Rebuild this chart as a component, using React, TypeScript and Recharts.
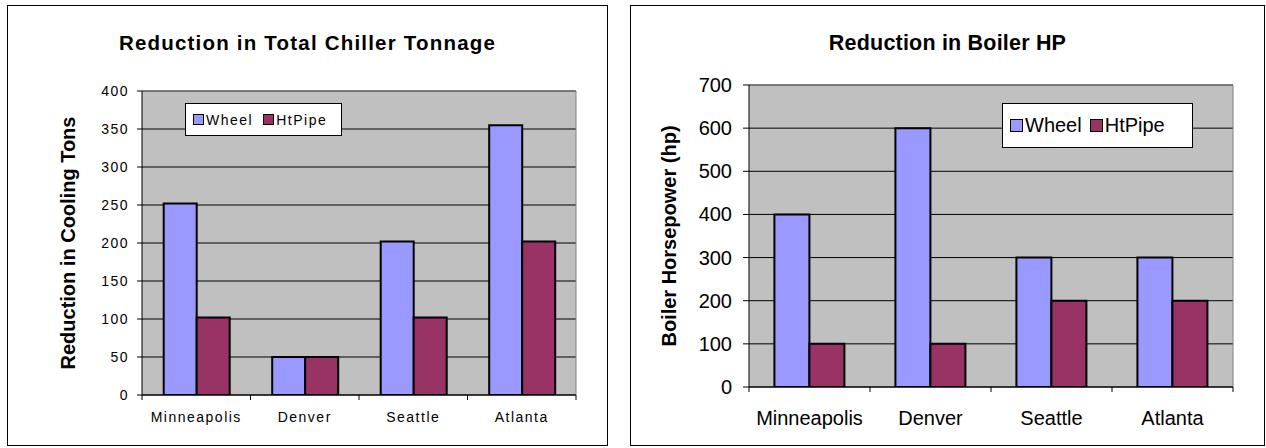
import React from 'react';
import { BarChart, Bar, XAxis, YAxis, CartesianGrid, Legend, ReferenceLine } from 'recharts';

const CITIES = ['Minneapolis', 'Denver', 'Seattle', 'Atlanta'];
const SERIES_ORDER = ['wheel', 'htpipe'];

const TONS_WHEEL = [252, 50, 202, 355];
const TONS_HTPIPE = [102, 50, 102, 202];
const TONS_TICKS = [0, 50, 100, 150, 200, 250, 300, 350, 400];

const HP_WHEEL = [400, 600, 300, 300];
const HP_HTPIPE = [100, 100, 200, 200];
const HP_TICKS = [0, 100, 200, 300, 400, 500, 600, 700];

const FONT = "'Liberation Sans', Arial, Helvetica, sans-serif";
const WHEEL_COLOR = '#9999FF';
const HTPIPE_COLOR = '#993366';

interface PanelProps {
  title: string;
  yLabel: string;
  wheel: number[];
  htpipe: number[];
  ticks: number[];
  box: { left: number; top: number; width: number; height: number };
  margin: { top: number; right: number; bottom: number; left: number };
  yAxisWidth: number;
  xAxisHeight: number;
  yTickSize: number;
  yTickMargin: number;
  fontSize: number;
  letterSpacing: number;
  titleSize: number;
  titleSpacing: number;
  titleY: number;
  yLabelSize: number;
  yLabelPos: { x: number; y: number };
  xLabelDy: number;
  categoryGap: string;
  legend: { left: number; top: number; width: number; height: number; pad: number; marker: number; gap: number };
}

const ChartPanel: React.FC<PanelProps> = (p) => {
  const data = CITIES.map((city, i) => ({ city, wheel: p.wheel[i], htpipe: p.htpipe[i] }));
  const innerW = p.box.width - 2;
  const innerH = p.box.height - 2;
  const plotW = innerW - p.margin.left - p.yAxisWidth - p.margin.right;
  const top = p.ticks[p.ticks.length - 1];

  const renderXTick = (props: any) => {
    const { x, y, payload, index } = props;
    const half = payload && typeof payload.offset === 'number' && payload.offset > 0 ? payload.offset : plotW / CITIES.length / 2;
    return (
      <g>
        <line x1={x - half} y1={y} x2={x - half} y2={y + 5} stroke="#000" />
        {index === CITIES.length - 1 && <line x1={x + half} y1={y} x2={x + half} y2={y + 5} stroke="#000" />}
        <text
          x={x}
          y={y + p.xLabelDy}
          textAnchor="middle"
          fill="#000"
          style={{ fontFamily: FONT, fontSize: p.fontSize, letterSpacing: p.letterSpacing }}
        >
          {payload.value}
        </text>
      </g>
    );
  };

  const renderYTick = (props: any) => {
    const { x, y, payload } = props;
    return (
      <text
        x={x}
        y={y}
        textAnchor="end"
        dominantBaseline="central"
        fill="#000"
        style={{ fontFamily: FONT, fontSize: p.fontSize, letterSpacing: p.letterSpacing }}
      >
        {payload.value}
      </text>
    );
  };

  const renderLegend = (props: any) => {
    const items = [...(props.payload || [])].sort(
      (a: any, b: any) => SERIES_ORDER.indexOf(a.dataKey) - SERIES_ORDER.indexOf(b.dataKey)
    );
    return (
      <div
        style={{
          width: p.legend.width,
          height: p.legend.height,
          boxSizing: 'border-box',
          border: '1px solid #000',
          background: '#fff',
          display: 'flex',
          alignItems: 'center',
          paddingLeft: p.legend.pad,
          fontFamily: FONT,
          fontSize: p.fontSize,
          letterSpacing: p.letterSpacing,
          color: '#000',
        }}
      >
        {items.map((item: any, i: number) => (
          <div key={`leg-${i}`} style={{ display: 'flex', alignItems: 'center', marginRight: i === 0 ? p.legend.gap : 0 }}>
            <span
              style={{
                display: 'inline-block',
                width: p.legend.marker,
                height: p.legend.marker,
                boxSizing: 'border-box',
                border: '1.5px solid #000',
                background: item.color,
                marginRight: 2,
              }}
            />
            <span>{item.value}</span>
          </div>
        ))}
      </div>
    );
  };

  return (
    <div
      style={{
        position: 'absolute',
        left: p.box.left,
        top: p.box.top,
        width: p.box.width,
        height: p.box.height,
        boxSizing: 'border-box',
        border: '1px solid #000',
        background: '#fff',
      }}
    >
      <BarChart
        width={innerW}
        height={innerH}
        data={data}
        margin={p.margin}
        barGap={0}
        barCategoryGap={p.categoryGap}
      >
        <CartesianGrid vertical={false} stroke="#000" fill="#C0C0C0" fillOpacity={1} />
        <XAxis
          dataKey="city"
          height={p.xAxisHeight}
          stroke="#000"
          tickLine={false}
          tickSize={0}
          tickMargin={0}
          interval={0}
          tick={renderXTick}
        />
        <YAxis
          width={p.yAxisWidth}
          domain={[0, top]}
          ticks={p.ticks}
          interval={0}
          stroke="#000"
          tickLine={{ stroke: '#000' }}
          tickSize={p.yTickSize}
          tickMargin={p.yTickMargin}
          tick={renderYTick}
          allowDataOverflow
        />
        <ReferenceLine y={top} stroke="#808080" />
        <ReferenceLine x={CITIES[CITIES.length - 1]} position="end" stroke="#808080" />
        <Legend
          layout="horizontal"
          align="center"
          verticalAlign="middle"
          content={renderLegend}
          wrapperStyle={{ left: p.legend.left, top: p.legend.top, width: p.legend.width, height: p.legend.height }}
        />
        <Bar dataKey="wheel" name="Wheel" fill={WHEEL_COLOR} stroke="#000" strokeWidth={2} isAnimationActive={false} />
        <Bar dataKey="htpipe" name="HtPipe" fill={HTPIPE_COLOR} stroke="#000" strokeWidth={2} isAnimationActive={false} />
      </BarChart>
      <svg
        width={innerW}
        height={innerH}
        style={{ position: 'absolute', left: 0, top: 0, pointerEvents: 'none' }}
      >
        <text
          x={innerW / 2}
          y={p.titleY}
          textAnchor="middle"
          fill="#000"
          style={{ fontFamily: FONT, fontSize: p.titleSize, fontWeight: 'bold', letterSpacing: p.titleSpacing }}
        >
          {p.title}
        </text>
        <text
          x={p.yLabelPos.x}
          y={p.yLabelPos.y}
          textAnchor="middle"
          dominantBaseline="central"
          transform={`rotate(-90, ${p.yLabelPos.x}, ${p.yLabelPos.y})`}
          fill="#000"
          style={{ fontFamily: FONT, fontSize: p.yLabelSize, fontWeight: 'bold' }}
        >
          {p.yLabel}
        </text>
      </svg>
    </div>
  );
};

const App: React.FC = () => {
  return (
    <div style={{ position: 'absolute', left: 0, top: 0, width: 1266, height: 448, background: '#fff' }}>
      <ChartPanel
        title="Reduction in Total Chiller Tonnage"
        yLabel="Reduction in Cooling Tons"
        wheel={TONS_WHEEL}
        htpipe={TONS_HTPIPE}
        ticks={TONS_TICKS}
        box={{ left: 7, top: 5, width: 601, height: 441 }}
        margin={{ top: 85, right: 31, bottom: 10, left: 74 }}
        yAxisWidth={60}
        xAxisHeight={40}
        yTickSize={5}
        yTickMargin={8}
        fontSize={14}
        letterSpacing={1.5}
        titleSize={20.5}
        titleSpacing={1.2}
        titleY={44}
        yLabelSize={20}
        yLabelPos={{ x: 60, y: 237 }}
        xLabelDy={27}
        categoryGap="20%"
        legend={{ left: 177, top: 97, width: 157, height: 33, pad: 7, marker: 11, gap: 10 }}
      />
      <ChartPanel
        title="Reduction in Boiler HP"
        yLabel="Boiler Horsepower (hp)"
        wheel={HP_WHEEL}
        htpipe={HP_HTPIPE}
        ticks={HP_TICKS}
        box={{ left: 630, top: 5, width: 635, height: 441 }}
        margin={{ top: 79, right: 31, bottom: 10, left: 58 }}
        yAxisWidth={60}
        xAxisHeight={48}
        yTickSize={6}
        yTickMargin={11}
        fontSize={20}
        letterSpacing={0}
        titleSize={21.5}
        titleSpacing={0.2}
        titleY={44}
        yLabelSize={20}
        yLabelPos={{ x: 38, y: 230 }}
        xLabelDy={38}
        categoryGap="21%"
        legend={{ left: 371, top: 97, width: 191, height: 45, pad: 7, marker: 13, gap: 8 }}
      />
    </div>
  );
};

export default App;
